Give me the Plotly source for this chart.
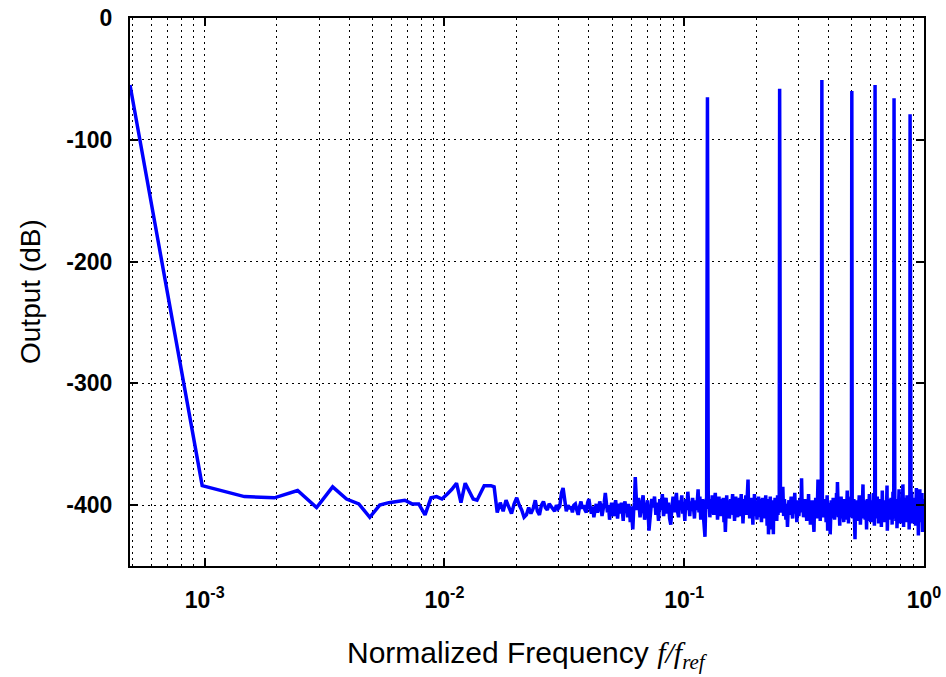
import numpy as np
import plotly.graph_objects as go

# FFT bin count: frequencies are k / N_BINS
N_BINS = 2048

# Output level (dB) for bins k = 1 .. 127
lf_db = [
    -55, -384, -393, -394, -388, -402, -385, -395, -399, -410,
    -400, -398, -397, -396, -399, -399, -408, -394, -393, -395,
    -391, -387, -382, -398, -382, -388, -395, -396, -389, -384,
    -384, -384, -385, -406, -398, -405, -396, -401, -407, -399,
    -394, -400, -404, -410, -408, -402, -407, -403, -396, -405,
    -408, -400, -397, -402, -404, -399, -401, -402, -405, -400,
    -403, -401, -390, -386, -398, -405, -400, -403, -401, -406,
    -400, -399, -404, -408, -401, -397, -403, -400, -404, -406,
    -398, -395, -402, -407, -401, -410, -404, -399, -406, -403,
    -397, -401, -409, -404, -398, -390, -402, -406, -400, -412,
    -403, -398, -405, -409, -401, -396, -404, -411, -402, -399,
    -407, -398, -404, -413, -400, -397, -406, -402, -410, -399,
    -404, -414, -401, -412, -420, -405, -398,
]

# Output level (dB) for bins k = 128, 130, ..., 510
mid_db = [
    -377, -404, -394, -410, -400, -392, -412, -402, -396, -421, -406, -395,
    -402, -393, -408, -398, -413, -395, -404, -391, -409, -400, -394, -407,
    -398, -411, -416, -402, -393, -406, -397, -390, -405, -410, -396, -402,
    -392, -407, -399, -413, -395, -404, -389, -403, -409, -397, -405, -394,
    -402, -411, -396, -404, -398, -387, -406, -393, -412, -400, -395, -408,
    -418, -426, -397, -394, -401, -403, -395, -410, -398, -405, -392, -402,
    -408, -396, -390, -404, -397, -412, -400, -393, -406, -398, -409, -395,
    -403, -394, -414, -404, -422, -398, -392, -407, -401, -396, -411, -403,
    -395, -405, -398, -391, -408, -401, -413, -397, -393, -406, -400, -410,
    -396, -404, -394, -409, -401, -391, -407, -398, -415, -402, -395, -405,
    -400, -392, -408, -397, -385, -379, -404, -396, -411, -401, -394, -407,
    -398, -405, -416, -395, -403, -391, -409, -400, -396, -406, -412, -397,
    -404, -393, -410, -401, -395, -407, -398, -414, -402, -394, -408, -400,
    -396, -411, -404, -397, -392, -407, -401, -417, -403, -395, -424, -405,
    -398, -409, -393, -403, -420, -400, -396, -412, -404, -424, -397, -407,
    -401, -394, -410, -403, -397, -413, -400, -392, -408, -402, -396, -406,
]

# Output level (dB) for bins k = 512, 516, ..., 2048
hf_db = [
    -400, -398, -406, -401, -385, -409, -395, -403, -412, -399, -418, -404, -396, -408, -400, -393,
    -405, -411, -397, -402, -390, -407, -399, -414, -403, -396, -409, -401, -394, -406, -378, -404,
    -398, -410, -402, -395, -407, -400, -413, -397, -404, -391, -408, -401, -416, -399, -405, -396,
    -409, -403, -422, -398, -406, -394, -401, -411, -399, -379, -407, -402, -396, -413, -400, -405,
    -401, -404, -397, -410, -401, -395, -408, -399, -414, -403, -392, -421, -406, -400, -409, -398,
    -424, -402, -396, -407, -401, -411, -394, -405, -399, -412, -403, -397, -408, -390, -404, -381,
    -400, -410, -396, -405, -417, -399, -407, -393, -403, -411, -398, -406, -401, -414, -395, -404,
    -409, -397, -402, -412, -399, -388, -406, -401, -415, -396, -404, -410, -398, -407, -393, -403,
    -399, -406, -399, -411, -402, -395, -409, -400, -428, -404, -397, -408, -401, -413, -396, -405,
    -410, -398, -404, -392, -407, -401, -416, -399, -405, -395, -411, -402, -397, -383, -408, -400,
    -396, -406, -401, -412, -398, -404, -409, -420, -402, -395, -407, -400, -413, -397, -405, -391,
    -403, -409, -399, -414, -401, -396, -407, -402, -411, -398, -405, -390, -408, -400, -417, -404,
    -402, -402, -408, -397, -411, -400, -405, -393, -410, -403, -398, -415, -401, -406, -396, -409,
    -400, -412, -395, -404, -418, -399, -407, -388, -403, -410, -397, -405, -401, -414, -398, -406,
    -402, -396, -409, -400, -413, -404, -398, -384, -421, -401, -407, -395, -411, -403, -399, -408,
    -405, -397, -412, -401, -406, -394, -410, -399, -404, -416, -398, -407, -389, -402, -411, -400,
    -398, -404, -398, -410, -401, -407, -395, -413, -400, -405, -397, -419, -403, -408, -396, -402,
    -409, -399, -406, -387, -411, -402, -397, -415, -401, -405, -398, -410, -394, -407, -403, -400,
    -412, -398, -383, -405, -401, -418, -396, -408, -403, -399, -411, -394, -406, -402, -414, -397,
    -404, -409, -400, -392, -407, -401, -413, -398, -405, -410, -396, -403, -420, -400, -406, -395,
    -403, -403, -409, -398, -412, -401, -406, -389, -404, -415, -399, -407, -402, -396, -411, -400,
    -405, -397, -413, -402, -408, -394, -410, -400, -417, -403, -398, -406, -386, -409, -401, -404,
    -399, -411, -403, -396, -408, -425, -400, -405, -397, -412, -402, -406, -387, -410, -398, -404,
    -407, -400, -414, -396, -409, -403, -390, -406, -401, -422, -398, -410, -404, -395, -408, -402,
    -401,
]

# Tone bins (multiples of f_ref/8) and their output levels (dB)
tone_bins = [256, 512, 768, 1024, 1280, 1536, 1792]
tone_db = [-65, -58, -51, -60, -55, -66, -79]

bins = list(range(1, 128)) + list(range(128, 512, 2)) + list(range(512, 2049, 4))
level = lf_db + mid_db + hf_db
spectrum = dict(zip(bins, level))
for b, v in zip(tone_bins, tone_db):
    spectrum[b] = v

k = np.array(sorted(spectrum))
freq = k / N_BINS
out_db = np.array([spectrum[i] for i in k])

x_major = [1e-3, 1e-2, 1e-1, 1]
x_major_text = ["<b>10<sup>-3</sup></b>", "<b>10<sup>-2</sup></b>",
                "<b>10<sup>-1</sup></b>", "<b>10<sup>0</sup></b>"]
x_minor = [m * 10.0 ** e for e in (-4, -3, -2, -1) for m in range(2, 10)
           if m * 10.0 ** e >= 5e-4]
y_major = [0, -100, -200, -300, -400]

FONT = "Liberation Sans, Arial, sans-serif"

fig = go.Figure()
fig.add_trace(go.Scatter(
    x=freq, y=out_db, mode="lines",
    line=dict(color="#0000ff", width=3.5),
    hoverinfo="skip", showlegend=False,
))

axis_common = dict(
    showline=True, linecolor="black", linewidth=2, mirror="ticks",
    ticks="inside", ticklen=8, tickwidth=2, tickcolor="black",
    showgrid=True, gridcolor="black", gridwidth=1, griddash="2px,4px",
    zeroline=False, automargin=False,
    tickfont=dict(family=FONT, size=23, color="black", weight="bold"),
)

fig.update_xaxes(
    type="log", range=[np.log10(1 / N_BINS), 0],
    tickmode="array", tickvals=x_major, ticktext=x_major_text,
    ticklabelstandoff=12,
    minor=dict(tickmode="array", tickvals=x_minor, ticks="",
               showgrid=True, gridcolor="black", gridwidth=1, griddash="2px,4px"),
    **axis_common,
)
fig.update_yaxes(
    range=[-450, 0], tickmode="array", tickvals=y_major,
    ticktext=[f"<b>{v}</b>" for v in y_major],
    ticklabelstandoff=11,
    **axis_common,
)

fig.add_annotation(
    text="Output (dB)", xref="paper", yref="paper",
    x=-100 / 794, y=0.5, xanchor="center", yanchor="middle",
    textangle=-90, showarrow=False,
    font=dict(family=FONT, size=28, color="black"),
)
fig.add_annotation(
    text=("Normalized Frequency "
          "<span style='font-family:Liberation Serif, Times New Roman, serif'>"
          "<i>f/f<sub>ref</sub></i></span>"),
    xref="paper", yref="paper",
    x=0.5, y=-(655 - 566) / 548, xanchor="center", yanchor="middle",
    showarrow=False,
    font=dict(family=FONT, size=30, color="black"),
)

fig.update_layout(
    width=946, height=677,
    margin=dict(l=130, r=22, t=18, b=111),
    paper_bgcolor="white", plot_bgcolor="white",
)

fig.write_html("out.html")
